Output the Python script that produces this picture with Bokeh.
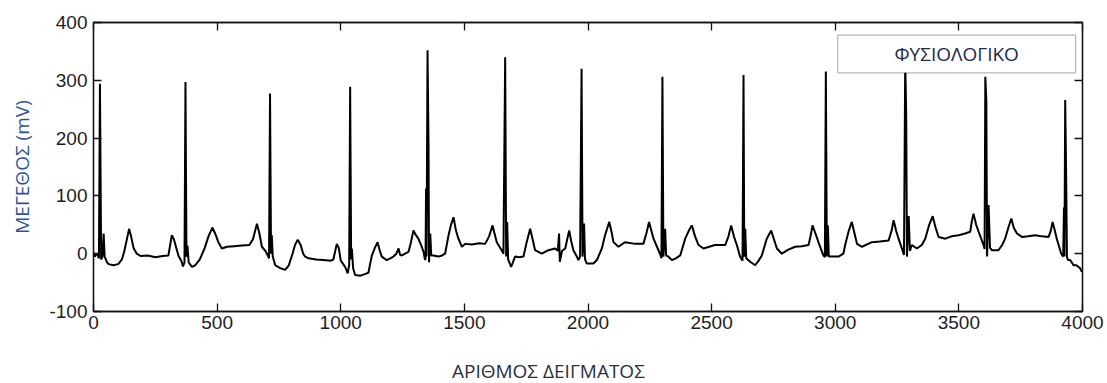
from bokeh.plotting import figure
from bokeh.layouts import column
from bokeh.models import LinearAxis, FixedTicker, Range1d, BoxAnnotation, Label
from bokeh.core.properties import value
from bokeh.embed import file_html
from bokeh.resources import INLINE

# ECG trace (sample index, amplitude in mV)
sample_index = [
    0, 6, 12, 18, 22, 26, 31, 36, 41, 45, 55, 61, 80, 100, 115, 125, 135, 144, 152, 162,
    175, 190, 220, 250, 280, 303, 310, 317, 325, 335, 344, 355, 362, 368,
    372, 376, 380, 385, 398, 411, 430, 450, 465, 481, 492, 505, 519, 540, 570, 600,
    630, 645, 661, 671, 681, 695, 705, 710,
    714, 718, 721, 725, 735, 755, 775, 790, 805, 815, 826, 838, 848, 856, 870, 900,
    930, 960, 970, 978, 984, 992, 1000, 1018, 1028, 1034,
    1038, 1042, 1045, 1050, 1058, 1080, 1100, 1112, 1120, 1126, 1138, 1149, 1158, 1166,
    1186, 1200, 1213, 1225, 1234, 1240, 1247, 1260, 1274, 1284, 1294, 1304, 1314, 1325,
    1335, 1341,
    1343, 1345, 1347, 1351, 1355, 1357, 1362, 1366, 1375, 1395, 1410, 1422, 1436, 1446,
    1456, 1466, 1476, 1490, 1503, 1530, 1560, 1584, 1600, 1614, 1622, 1631, 1645, 1651, 1658,
    1665, 1669, 1673, 1677, 1689, 1705, 1720, 1739, 1752, 1766, 1776, 1786, 1813, 1840,
    1867, 1878, 1883, 1886, 1895, 1908, 1916, 1924, 1932, 1941, 1955, 1961, 1968,
    1974, 1978, 1984, 1988, 1995, 2010, 2022, 2036, 2056, 2069, 2086, 2095, 2103, 2123,
    2150, 2191, 2224, 2236, 2247, 2256, 2265, 2285, 2293, 2297,
    2301, 2305, 2312, 2316, 2325, 2339, 2355, 2373, 2393, 2408, 2420, 2433, 2447, 2467,
    2490, 2514, 2555, 2568, 2579, 2590, 2602, 2615, 2622, 2625,
    2629, 2632, 2636, 2640, 2656, 2676, 2690, 2703, 2723, 2741, 2752, 2764, 2784, 2810,
    2838, 2865, 2892, 2900, 2908, 2920, 2932, 2945, 2952, 2958,
    2962, 2966, 2970, 2974, 2993, 3013, 3033, 3040, 3055, 3067, 3078, 3088, 3108, 3148,
    3180, 3216, 3228, 3236, 3246, 3256, 3272, 3278,
    3283, 3287, 3290, 3297, 3302, 3310, 3330, 3350, 3364, 3380, 3394, 3406, 3418, 3445,
    3470, 3499, 3525, 3546, 3552, 3559, 3570, 3580, 3600, 3604,
    3607, 3611, 3614, 3620, 3626, 3634, 3660, 3675, 3687, 3700, 3712, 3722, 3735, 3755,
    3780, 3809, 3835, 3863, 3872, 3879, 3888, 3896, 3914, 3922,
    3925, 3927, 3930, 3934, 3937, 3941, 3950, 3964, 3975, 3984, 3990, 3997, 4000,
]
amplitude_mv = [
    2, -5, 0, -3, -8, 294, -10, -5, 35, -5, -15, -18, -20, -18, -10, 5, 25, 43, 30, 10,
    0, -4, -3, -6, -4, -3, 15, 32, 25, 10, -4, -12, -22, -15,
    297, -5, 14, -15, -23, -20, -10, 10, 30, 45, 35, 20, 9, 12, 13, 14,
    15, 25, 52, 35, 12, 5, -3, -8,
    277, 0, 32, -5, -20, -25, -28, -20, 0, 15, 24, 15, 0, -5, -8, -10,
    -11, -12, -10, 5, 17, 10, -12, -23, -34, -20,
    289, -10, 9, -25, -37, -38, -35, -33, -15, -3, 10, 20, 5, -5,
    -11, -8, -5, 0, 9, -2, -3, 0, 3, 20, 40, 32, 26, 15,
    3, -11,
    -8, 113, -5, 352, 190, -15, 35, -3, -3, -5, -3, 0, 32, 50,
    63, 40, 26, 12, 17, 16, 18, 17, 30, 49, 35, 20, 10, 6, 0,
    340, -5, 55, -10, -23, -5, -6, -5, 20, 43, 25, 6, 0, 6,
    9, 5, 35, -14, 5, 9, 25, 40, 22, 6, -5, -11, -5,
    320, -5, 52, -10, -17, -17, -17, -11, 9, 32, 55, 38, 20, 12,
    20, 17, 17, 35, 55, 40, 26, 6, -2, -8,
    306, -5, 43, -3, -5, -11, -8, -3, 26, 40, 49, 30, 15, 9,
    12, 15, 15, 30, 49, 30, 15, -5, -10, -12,
    309, -5, 43, -8, -14, -20, -12, -3, 26, 40, 25, 9, 0, 7,
    12, 13, 15, 30, 49, 35, 20, 5, -3, -6,
    315, -5, 49, -5, -5, -5, 0, 15, 40, 55, 35, 17, 12, 20,
    21, 23, 40, 58, 40, 26, 6, -2,
    335, 240, -5, 65, 5, 15, 9, 15, 26, 50, 65, 45, 29, 26,
    30, 32, 35, 38, 55, 69, 50, 38, 15, 8,
    306, 265, -5, 84, 10, 6, 6, 15, 26, 45, 61, 45, 35, 29,
    30, 32, 30, 29, 40, 55, 40, 26, 0, -5,
    80, -5, 266, 132, -5, -11, -11, -20, -20, -23, -25, -31, -28,
]

x_ticks = [0, 500, 1000, 1500, 2000, 2500, 3000, 3500, 4000]
y_ticks = [-100, 0, 100, 200, 300, 400]
y_tick_labels = ["-100", "0", "100", "200", "300", "400"]
legend_text = "ΦΥΣΙΟΛΟΓΙΚΟ"
x_title = "ΑΡΙΘΜΟΣ ΔΕΙΓΜΑΤΟΣ"
y_title = "ΜΕΓΕΘΟΣ (mV)"

p = figure(width=1107, height=345, output_backend="svg", toolbar_location=None,
           x_range=Range1d(0, 4000), y_range=Range1d(-100, 400),
           min_border_left=93, min_border_right=25, min_border_top=22,
           min_border_bottom=34, background_fill_color="white",
           border_fill_color="white")

p.line(sample_index, amplitude_mv, line_color="black", line_width=2.0)

p.xgrid.visible = False
p.ygrid.visible = False
p.outline_line_color = "#111111"
p.outline_line_width = 1.3

tick_font = "Liberation Sans"
for ax, ticks in ((p.xaxis[0], x_ticks), (p.yaxis[0], y_ticks)):
    ax.ticker = FixedTicker(ticks=ticks)
    ax.major_tick_in = 8
    ax.major_tick_out = 0
    ax.major_tick_line_color = "#111111"
    ax.major_tick_line_width = 1.3
    ax.minor_tick_line_color = None
    ax.axis_line_color = "#111111"
    ax.axis_line_width = 1.3
    ax.major_label_text_font = tick_font
    ax.major_label_text_font_size = "19px"
    ax.major_label_text_color = "#1e1e1e"

p.yaxis[0].major_label_overrides = {t: s for t, s in zip(y_ticks, y_tick_labels)}
p.xaxis[0].major_label_standoff = 4
p.yaxis[0].major_label_standoff = 6
p.yaxis[0].axis_label = y_title
p.yaxis[0].axis_label_text_font = "Open Sans"
p.yaxis[0].axis_label_text_font_size = "19px"
p.yaxis[0].axis_label_text_font_style = "normal"
p.yaxis[0].axis_label_text_color = "#2F5597"
p.yaxis[0].axis_label_standoff = 11

for loc, ticks in (("above", x_ticks), ("right", y_ticks)):
    ax = LinearAxis(ticker=FixedTicker(ticks=ticks), major_tick_in=8, major_tick_out=0,
                    major_tick_line_color="#111111", major_tick_line_width=1.3,
                    minor_tick_line_color=None, axis_line_color="#111111",
                    axis_line_width=1.3, major_label_text_font_size="1px",
                    major_label_overrides={t: "" for t in ticks},
                    major_label_standoff=0)
    p.add_layout(ax, loc)

# legend box
p.add_layout(BoxAnnotation(left=3010, right=3972, bottom=313, top=378,
                           fill_color="white", fill_alpha=1.0,
                           line_color="#111111", line_width=1.3))
p.add_layout(Label(x=3491, y=346, text=legend_text, text_align="center",
                   text_baseline="middle", text_font="Open Sans",
                   text_font_size="19px", text_color="#1c2a48"))

# strip below the chart carrying the x-axis title
p2 = figure(width=1107, height=38, output_backend="svg", toolbar_location=None,
            x_range=p.x_range, y_range=Range1d(0, 1),
            min_border_left=93, min_border_right=25, min_border_top=0,
            min_border_bottom=0, x_axis_type=None, y_axis_type=None,
            background_fill_color="white", border_fill_color="white")
p2.outline_line_color = None
p2.xgrid.visible = False
p2.ygrid.visible = False
p2.text(x=[1840], y=[0.32], text=[x_title], text_align="center",
        text_baseline="middle", text_font=value("Open Sans"),
        text_font_size="19px", text_color="#2b2f3f")

layout = column(p, p2, spacing=0)
open("out.html", "w").write(file_html(layout, INLINE))
